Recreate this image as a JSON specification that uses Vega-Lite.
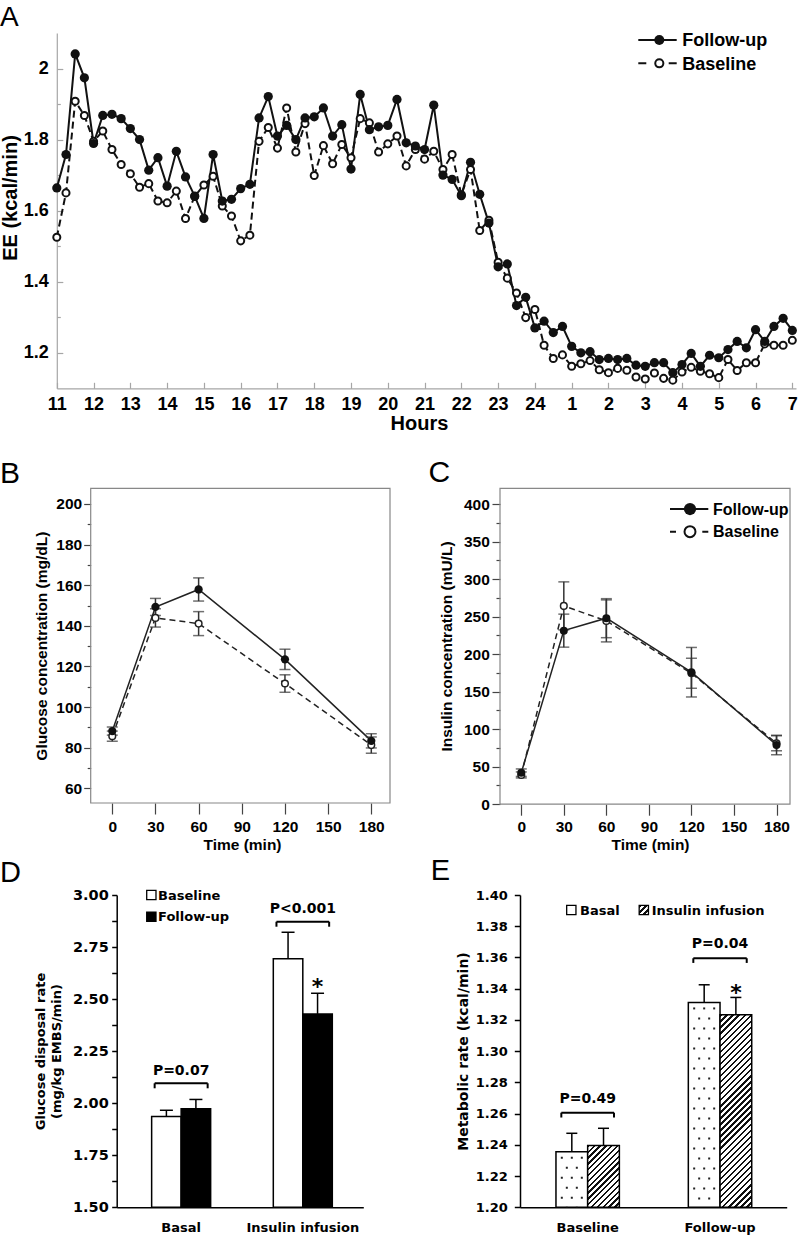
{
"$schema":"https://vega.github.io/schema/vega-lite/v6.json",
"width":800,"height":1236,"autosize":{"type":"none"},"padding":0,"background":"white",
"config":{"view":{"stroke":null},"axis":{"grid":false,"labelFlush":false,"labelOverlap":false}},
"datasets":{
"ee":[
{"hour":11,"series":"Follow-up","ee":1.664},{"hour":11.25,"series":"Follow-up","ee":1.758},{"hour":11.5,"series":"Follow-up","ee":2.041},{"hour":11.75,"series":"Follow-up","ee":1.974},{"hour":12,"series":"Follow-up","ee":1.789},{"hour":12.25,"series":"Follow-up","ee":1.868},{"hour":12.5,"series":"Follow-up","ee":1.871},{"hour":12.75,"series":"Follow-up","ee":1.859},{"hour":13,"series":"Follow-up","ee":1.831},{"hour":13.25,"series":"Follow-up","ee":1.8},
{"hour":13.5,"series":"Follow-up","ee":1.714},{"hour":13.75,"series":"Follow-up","ee":1.749},{"hour":14,"series":"Follow-up","ee":1.669},{"hour":14.25,"series":"Follow-up","ee":1.767},{"hour":14.5,"series":"Follow-up","ee":1.695},{"hour":14.75,"series":"Follow-up","ee":1.641},{"hour":15,"series":"Follow-up","ee":1.578},{"hour":15.25,"series":"Follow-up","ee":1.758},{"hour":15.5,"series":"Follow-up","ee":1.627},{"hour":15.75,"series":"Follow-up","ee":1.632},
{"hour":16,"series":"Follow-up","ee":1.662},{"hour":16.25,"series":"Follow-up","ee":1.674},{"hour":16.5,"series":"Follow-up","ee":1.861},{"hour":16.75,"series":"Follow-up","ee":1.921},{"hour":17,"series":"Follow-up","ee":1.81},{"hour":17.25,"series":"Follow-up","ee":1.84},{"hour":17.5,"series":"Follow-up","ee":1.8},{"hour":17.75,"series":"Follow-up","ee":1.861},{"hour":18,"series":"Follow-up","ee":1.864},{"hour":18.25,"series":"Follow-up","ee":1.889},
{"hour":18.5,"series":"Follow-up","ee":1.81},{"hour":18.75,"series":"Follow-up","ee":1.842},{"hour":19,"series":"Follow-up","ee":1.717},{"hour":19.25,"series":"Follow-up","ee":1.927},{"hour":19.5,"series":"Follow-up","ee":1.828},{"hour":19.75,"series":"Follow-up","ee":1.836},{"hour":20,"series":"Follow-up","ee":1.84},{"hour":20.25,"series":"Follow-up","ee":1.913},{"hour":20.5,"series":"Follow-up","ee":1.791},{"hour":20.75,"series":"Follow-up","ee":1.782},
{"hour":21,"series":"Follow-up","ee":1.772},{"hour":21.25,"series":"Follow-up","ee":1.897},{"hour":21.5,"series":"Follow-up","ee":1.7},{"hour":21.75,"series":"Follow-up","ee":1.688},{"hour":22,"series":"Follow-up","ee":1.642},{"hour":22.25,"series":"Follow-up","ee":1.736},{"hour":22.5,"series":"Follow-up","ee":1.646},{"hour":22.75,"series":"Follow-up","ee":1.565},{"hour":23,"series":"Follow-up","ee":1.442},{"hour":23.25,"series":"Follow-up","ee":1.45},
{"hour":23.5,"series":"Follow-up","ee":1.333},{"hour":23.75,"series":"Follow-up","ee":1.356},{"hour":24,"series":"Follow-up","ee":1.27},{"hour":24.25,"series":"Follow-up","ee":1.289},{"hour":24.5,"series":"Follow-up","ee":1.257},{"hour":24.75,"series":"Follow-up","ee":1.274},{"hour":25,"series":"Follow-up","ee":1.218},{"hour":25.25,"series":"Follow-up","ee":1.2},{"hour":25.5,"series":"Follow-up","ee":1.203},{"hour":25.75,"series":"Follow-up","ee":1.181},
{"hour":26,"series":"Follow-up","ee":1.184},{"hour":26.25,"series":"Follow-up","ee":1.181},{"hour":26.5,"series":"Follow-up","ee":1.184},{"hour":26.75,"series":"Follow-up","ee":1.165},{"hour":27,"series":"Follow-up","ee":1.162},{"hour":27.25,"series":"Follow-up","ee":1.172},{"hour":27.5,"series":"Follow-up","ee":1.172},{"hour":27.75,"series":"Follow-up","ee":1.144},{"hour":28,"series":"Follow-up","ee":1.167},{"hour":28.25,"series":"Follow-up","ee":1.198},
{"hour":28.5,"series":"Follow-up","ee":1.162},{"hour":28.75,"series":"Follow-up","ee":1.193},{"hour":29,"series":"Follow-up","ee":1.186},{"hour":29.25,"series":"Follow-up","ee":1.209},{"hour":29.5,"series":"Follow-up","ee":1.232},{"hour":29.75,"series":"Follow-up","ee":1.214},{"hour":30,"series":"Follow-up","ee":1.265},{"hour":30.25,"series":"Follow-up","ee":1.232},{"hour":30.5,"series":"Follow-up","ee":1.274},{"hour":30.75,"series":"Follow-up","ee":1.297},
{"hour":31,"series":"Follow-up","ee":1.263},
{"hour":11,"series":"Baseline","ee":1.525},{"hour":11.25,"series":"Baseline","ee":1.65},{"hour":11.5,"series":"Baseline","ee":1.908},{"hour":11.75,"series":"Baseline","ee":1.868},{"hour":12,"series":"Baseline","ee":1.795},{"hour":12.25,"series":"Baseline","ee":1.824},{"hour":12.5,"series":"Baseline","ee":1.772},{"hour":12.75,"series":"Baseline","ee":1.73},{"hour":13,"series":"Baseline","ee":1.704},{"hour":13.25,"series":"Baseline","ee":1.666},
{"hour":13.5,"series":"Baseline","ee":1.676},{"hour":13.75,"series":"Baseline","ee":1.627},{"hour":14,"series":"Baseline","ee":1.622},{"hour":14.25,"series":"Baseline","ee":1.655},{"hour":14.5,"series":"Baseline","ee":1.578},{"hour":14.75,"series":"Baseline","ee":1.64},{"hour":15,"series":"Baseline","ee":1.672},{"hour":15.25,"series":"Baseline","ee":1.697},{"hour":15.5,"series":"Baseline","ee":1.613},{"hour":15.75,"series":"Baseline","ee":1.585},
{"hour":16,"series":"Baseline","ee":1.515},{"hour":16.25,"series":"Baseline","ee":1.531},{"hour":16.5,"series":"Baseline","ee":1.795},{"hour":16.75,"series":"Baseline","ee":1.834},{"hour":17,"series":"Baseline","ee":1.776},{"hour":17.25,"series":"Baseline","ee":1.889},{"hour":17.5,"series":"Baseline","ee":1.765},{"hour":17.75,"series":"Baseline","ee":1.845},{"hour":18,"series":"Baseline","ee":1.699},{"hour":18.25,"series":"Baseline","ee":1.783},
{"hour":18.5,"series":"Baseline","ee":1.732},{"hour":18.75,"series":"Baseline","ee":1.786},{"hour":19,"series":"Baseline","ee":1.749},{"hour":19.25,"series":"Baseline","ee":1.859},{"hour":19.5,"series":"Baseline","ee":1.847},{"hour":19.75,"series":"Baseline","ee":1.765},{"hour":20,"series":"Baseline","ee":1.788},{"hour":20.25,"series":"Baseline","ee":1.81},{"hour":20.5,"series":"Baseline","ee":1.726},{"hour":20.75,"series":"Baseline","ee":1.772},
{"hour":21,"series":"Baseline","ee":1.745},{"hour":21.25,"series":"Baseline","ee":1.767},{"hour":21.5,"series":"Baseline","ee":1.716},{"hour":21.75,"series":"Baseline","ee":1.758},{"hour":22,"series":"Baseline","ee":1.645},{"hour":22.25,"series":"Baseline","ee":1.716},{"hour":22.5,"series":"Baseline","ee":1.544},{"hour":22.75,"series":"Baseline","ee":1.573},{"hour":23,"series":"Baseline","ee":1.455},{"hour":23.25,"series":"Baseline","ee":1.41},
{"hour":23.5,"series":"Baseline","ee":1.368},{"hour":23.75,"series":"Baseline","ee":1.299},{"hour":24,"series":"Baseline","ee":1.322},{"hour":24.25,"series":"Baseline","ee":1.221},{"hour":24.5,"series":"Baseline","ee":1.184},{"hour":24.75,"series":"Baseline","ee":1.194},{"hour":25,"series":"Baseline","ee":1.162},{"hour":25.25,"series":"Baseline","ee":1.169},{"hour":25.5,"series":"Baseline","ee":1.178},{"hour":25.75,"series":"Baseline","ee":1.152},
{"hour":26,"series":"Baseline","ee":1.144},{"hour":26.25,"series":"Baseline","ee":1.156},{"hour":26.5,"series":"Baseline","ee":1.151},{"hour":26.75,"series":"Baseline","ee":1.132},{"hour":27,"series":"Baseline","ee":1.126},{"hour":27.25,"series":"Baseline","ee":1.143},{"hour":27.5,"series":"Baseline","ee":1.128},{"hour":27.75,"series":"Baseline","ee":1.123},{"hour":28,"series":"Baseline","ee":1.146},{"hour":28.25,"series":"Baseline","ee":1.159},
{"hour":28.5,"series":"Baseline","ee":1.148},{"hour":28.75,"series":"Baseline","ee":1.141},{"hour":29,"series":"Baseline","ee":1.13},{"hour":29.25,"series":"Baseline","ee":1.181},{"hour":29.5,"series":"Baseline","ee":1.15},{"hour":29.75,"series":"Baseline","ee":1.172},{"hour":30,"series":"Baseline","ee":1.172},{"hour":30.25,"series":"Baseline","ee":1.225},{"hour":30.5,"series":"Baseline","ee":1.221},{"hour":30.75,"series":"Baseline","ee":1.221},
{"hour":31,"series":"Baseline","ee":1.235}
],
"glucose":[
{"time":0,"series":"Follow-up","mean":88.2,"se":2.0},{"time":30,"series":"Follow-up","mean":149.3,"se":4.2},{"time":60,"series":"Follow-up","mean":157.9,"se":5.7},{"time":120,"series":"Follow-up","mean":123.5,"se":5.0},{"time":180,"series":"Follow-up","mean":83.4,"se":3.5},
{"time":0,"series":"Baseline","mean":85.7,"se":2.5},{"time":30,"series":"Baseline","mean":143.9,"se":4.5},{"time":60,"series":"Baseline","mean":141.1,"se":5.9},{"time":120,"series":"Baseline","mean":111.6,"se":4.3},{"time":180,"series":"Baseline","mean":81.3,"se":4.0}
],
"insulin":[
{"time":0,"series":"Follow-up","mean":42,"se":5},{"time":30,"series":"Follow-up","mean":231.3,"se":22},{"time":60,"series":"Follow-up","mean":247.9,"se":26},{"time":120,"series":"Follow-up","mean":175.9,"se":33},{"time":180,"series":"Follow-up","mean":78.9,"se":13},
{"time":0,"series":"Baseline","mean":39,"se":4},{"time":30,"series":"Baseline","mean":264.3,"se":32},{"time":60,"series":"Baseline","mean":244.3,"se":28},{"time":120,"series":"Baseline","mean":174.5,"se":20},{"time":180,"series":"Baseline","mean":81.2,"se":10}
],
"gdr":[
{"cond":"Basal","group":"Baseline","value":1.936,"hi":1.966},{"cond":"Basal","group":"Follow-up","value":1.973,"hi":2.018},
{"cond":"Insulin infusion","group":"Baseline","value":2.694,"hi":2.821},{"cond":"Insulin infusion","group":"Follow-up","value":2.429,"hi":2.528}
],
"mr":[
{"time":"Baseline","cond":"Basal","value":1.2356,"hi":1.2474},{"time":"Baseline","cond":"Insulin infusion","value":1.2395,"hi":1.2506},
{"time":"Follow-up","cond":"Basal","value":1.3312,"hi":1.3425},{"time":"Follow-up","cond":"Insulin infusion","value":1.3233,"hi":1.3344}
]
},
"layer":[
{"data":{"name":"ee"},"layer":[
 {"transform":[{"filter":"datum.series==='Follow-up'"}],"mark":{"type":"line","color":"#111","strokeWidth":2},
  "encoding":{"x":{"field":"hour","type":"quantitative","scale":{"domain":[11,31.1],"range":[56.8,796],"nice":false,"zero":false},
     "axis":{"orient":"bottom","offset":-847.7,"values":[11,12,13,14,15,16,17,18,19,20,21,22,23,24,25,26,27,28,29,30,31],"tickCount":60,"labelExpr":"datum.value > 24 ? '' + (datum.value - 24) : '' + datum.value","labelOverlap":false,"labelFlush":false,"labelBound":false,"domainColor":"#a6a6a6","domainWidth":1.2,"tickColor":"#a6a6a6","tickWidth":1.2,"tickSize":-6,"labelPadding":13,"labelFont":"Liberation Sans","labelFontSize":18,"labelFontWeight":"bold","labelColor":"black","title":"Hours","titleFont":"Liberation Sans","titleFontSize":20,"titleFontWeight":"bold","titleColor":"black","titleX":419,"titleY":41,"titleBaseline":"alphabetic"}},
   "y":{"field":"ee","type":"quantitative","scale":{"domain":[1.1,2.1],"range":[388.3,33],"nice":false,"zero":false},
     "axis":{"orient":"left","offset":-56.8,"values":[1.2,1.3,1.4,1.5,1.6,1.7,1.8,1.9,2],"tickCount":60,"labelExpr":"round(datum.value*10) % 2 == 0 ? (datum.value == 2 ? '2' : format(datum.value, '.1f')) : ''","labelOverlap":false,"labelFlush":false,"domainColor":"#a6a6a6","domainWidth":1.2,"tickColor":"#a6a6a6","tickWidth":1.2,"tickSize":{"condition":{"test":"round(datum.value*10) % 2 != 0","value":-3.5},"value":-6},"labelPadding":14.5,"labelFont":"Liberation Sans","labelFontSize":18,"labelFontWeight":"bold","labelColor":"black","title":"EE (kcal/min)","titleFont":"Liberation Sans","titleFontSize":20,"titleFontWeight":"bold","titleColor":"black","titleX":-40.1,"titleY":197.5,"titleAngle":270,"titleBaseline":"alphabetic"}}}},
 {"transform":[{"filter":"datum.series==='Baseline'"}],"mark":{"type":"line","color":"#111","strokeWidth":2,"strokeDash":[7,4]},
  "encoding":{"x":{"field":"hour","type":"quantitative","scale":{"domain":[11,31.1],"range":[56.8,796],"nice":false,"zero":false}},
   "y":{"field":"ee","type":"quantitative","scale":{"domain":[1.1,2.1],"range":[388.3,33],"nice":false,"zero":false}}}},
 {"transform":[{"filter":"datum.series==='Baseline'"}],"mark":{"type":"circle","size":50,"fill":"white","stroke":"#111","strokeWidth":2,"opacity":1},
  "encoding":{"x":{"field":"hour","type":"quantitative","scale":{"domain":[11,31.1],"range":[56.8,796],"nice":false,"zero":false}},
   "y":{"field":"ee","type":"quantitative","scale":{"domain":[1.1,2.1],"range":[388.3,33],"nice":false,"zero":false}}}},
 {"transform":[{"filter":"datum.series==='Follow-up'"}],"mark":{"type":"circle","size":85,"fill":"#111","opacity":1},
  "encoding":{"x":{"field":"hour","type":"quantitative","scale":{"domain":[11,31.1],"range":[56.8,796],"nice":false,"zero":false}},
   "y":{"field":"ee","type":"quantitative","scale":{"domain":[1.1,2.1],"range":[388.3,33],"nice":false,"zero":false}}}},
 {"data":{"values":[{"label":"Follow-up"}]},"layer":[
  {"mark":{"type":"rule","color":"#111","strokeWidth":2},"encoding":{"x":{"datum":26.812,"type":"quantitative","scale":{"domain":[11,31.1],"range":[56.8,796],"nice":false,"zero":false}},"x2":{"datum":27.856},"y":{"datum":2.0803,"type":"quantitative","scale":{"domain":[1.1,2.1],"range":[388.3,33],"nice":false,"zero":false}}}},
  {"mark":{"type":"circle","size":100,"fill":"#111","opacity":1},"encoding":{"x":{"datum":27.383,"type":"quantitative","scale":{"domain":[11,31.1],"range":[56.8,796],"nice":false,"zero":false}},"y":{"datum":2.0803,"type":"quantitative","scale":{"domain":[1.1,2.1],"range":[388.3,33],"nice":false,"zero":false}}}},
  {"mark":{"type":"text","font":"Liberation Sans","fontWeight":"bold","fontSize":18,"align":"left","baseline":"alphabetic","color":"black"},"encoding":{"x":{"datum":28.009,"type":"quantitative","scale":{"domain":[11,31.1],"range":[56.8,796],"nice":false,"zero":false}},"y":{"datum":2.0623,"type":"quantitative","scale":{"domain":[1.1,2.1],"range":[388.3,33],"nice":false,"zero":false}},"text":{"field":"label"}}}
 ]},
 {"data":{"values":[{"label":"Baseline"}]},"layer":[
  {"mark":{"type":"rule","color":"#111","strokeWidth":2,"strokeDash":[8,22.4,8]},"encoding":{"x":{"datum":26.812,"type":"quantitative","scale":{"domain":[11,31.1],"range":[56.8,796],"nice":false,"zero":false}},"x2":{"datum":27.856},"y":{"datum":2.0147,"type":"quantitative","scale":{"domain":[1.1,2.1],"range":[388.3,33],"nice":false,"zero":false}}}},
  {"mark":{"type":"circle","size":66,"fill":"white","stroke":"#111","strokeWidth":2,"opacity":1},"encoding":{"x":{"datum":27.383,"type":"quantitative","scale":{"domain":[11,31.1],"range":[56.8,796],"nice":false,"zero":false}},"y":{"datum":2.0147,"type":"quantitative","scale":{"domain":[1.1,2.1],"range":[388.3,33],"nice":false,"zero":false}}}},
  {"mark":{"type":"text","font":"Liberation Sans","fontWeight":"bold","fontSize":18,"align":"left","baseline":"alphabetic","color":"black"},"encoding":{"x":{"datum":28.009,"type":"quantitative","scale":{"domain":[11,31.1],"range":[56.8,796],"nice":false,"zero":false}},"y":{"datum":1.9967,"type":"quantitative","scale":{"domain":[1.1,2.1],"range":[388.3,33],"nice":false,"zero":false}},"text":{"field":"label"}}}
 ]},
 {"data":{"values":[{"label":"A"}]},"mark":{"type":"text","font":"Liberation Sans","fontSize":28,"align":"left","baseline":"alphabetic","color":"black"},"encoding":{"x":{"datum":9.456,"type":"quantitative","scale":{"domain":[11,31.1],"range":[56.8,796],"nice":false,"zero":false}},"y":{"datum":2.1196,"type":"quantitative","scale":{"domain":[1.1,2.1],"range":[388.3,33],"nice":false,"zero":false}},"text":{"field":"label"}}}
]},
{"data":{"name":"glucose"},"layer":[
 {"transform":[{"filter":"datum.series==='Follow-up'"}],"mark":{"type":"line","color":"#222","strokeWidth":1.5},"encoding":{
   "x":{"field":"time","type":"quantitative","scale":{"domain":[-15,193],"range":[90.7,390],"nice":false,"zero":false},
    "axis":{"orient":"bottom","offset":-433,"values":[0,30,60,90,120,150,180],"tickCount":60,"labelOverlap":false,"labelFlush":false,"domain":false,"tickSize":11,"tickColor":"#444","tickWidth":1.2,"labelPadding":5.5,"labelFont":"Liberation Sans","labelFontSize":15.5,"labelFontWeight":"bold","labelColor":"black","title":"Time (min)","titleFont":"Liberation Sans","titleFontSize":15.5,"titleFontWeight":"bold","titleColor":"black","titleX":242,"titleY":46.4,"titleBaseline":"alphabetic"}},
   "y":{"field":"mean","type":"quantitative","title":"Glucose concentration (mg/dL)","scale":{"domain":[52.8,207.7],"range":[803,488.3],"nice":false,"zero":false},
    "axis":{"orient":"left","offset":-90.7,"values":[60,70,80,90,100,110,120,130,140,150,160,170,180,190,200],"tickCount":60,"labelExpr":"datum.value % 20 == 0 ? datum.label : ''","labelOverlap":false,"labelFlush":false,"domain":false,"tickSize":{"condition":{"test":"datum.value % 20 != 0","value":3.5},"value":7},"tickColor":"#444","tickWidth":1.2,"labelPadding":2,"labelFont":"Liberation Sans","labelFontSize":15.5,"labelFontWeight":"bold","labelColor":"black","title":"Glucose concentration (mg/dL)","titleFont":"Liberation Sans","titleFontSize":15.5,"titleFontWeight":"bold","titleColor":"black","titleX":-44.6,"titleY":645.6,"titleAngle":270,"titleBaseline":"alphabetic"}}}},
 {"data":{"values":[{"box":1}]},"mark":{"type":"rect","filled":false,"color":"#888","strokeWidth":1.2},"encoding":{"x":{"datum":-15,"type":"quantitative","scale":{"domain":[-15,193],"range":[90.7,390],"nice":false,"zero":false}},"x2":{"datum":193},"y":{"datum":52.8,"type":"quantitative","scale":{"domain":[52.8,207.7],"range":[803,488.3],"nice":false,"zero":false}},"y2":{"datum":207.7}}},
 {"mark":{"type":"errorbar","ticks":true,"size":11,"thickness":1.5,"color":"#333"},"encoding":{"x":{"field":"time","type":"quantitative","scale":{"domain":[-15,193],"range":[90.7,390],"nice":false,"zero":false}},"y":{"field":"mean","type":"quantitative","title":"Glucose concentration (mg/dL)","scale":{"domain":[52.8,207.7],"range":[803,488.3],"nice":false,"zero":false}},"yError":{"field":"se"}}},
 {"transform":[{"filter":"datum.series==='Baseline'"}],"mark":{"type":"line","color":"#222","strokeWidth":1.5,"strokeDash":[6,4]},"encoding":{"x":{"field":"time","type":"quantitative","scale":{"domain":[-15,193],"range":[90.7,390],"nice":false,"zero":false}},"y":{"field":"mean","type":"quantitative","scale":{"domain":[52.8,207.7],"range":[803,488.3],"nice":false,"zero":false}}}},
 {"transform":[{"filter":"datum.series==='Baseline'"}],"mark":{"type":"circle","size":44,"fill":"white","stroke":"#222","strokeWidth":1.5,"opacity":1},"encoding":{"x":{"field":"time","type":"quantitative","scale":{"domain":[-15,193],"range":[90.7,390],"nice":false,"zero":false}},"y":{"field":"mean","type":"quantitative","scale":{"domain":[52.8,207.7],"range":[803,488.3],"nice":false,"zero":false}}}},
 {"transform":[{"filter":"datum.series==='Follow-up'"}],"mark":{"type":"circle","size":68,"fill":"#111","opacity":1},"encoding":{"x":{"field":"time","type":"quantitative","scale":{"domain":[-15,193],"range":[90.7,390],"nice":false,"zero":false}},"y":{"field":"mean","type":"quantitative","scale":{"domain":[52.8,207.7],"range":[803,488.3],"nice":false,"zero":false}}}},
 {"data":{"values":[{"label":"B"}]},"mark":{"type":"text","font":"Liberation Sans","fontSize":30,"align":"left","baseline":"alphabetic","color":"black"},"encoding":{"x":{"datum":-78.03,"type":"quantitative","scale":{"domain":[-15,193],"range":[90.7,390],"nice":false,"zero":false}},"y":{"datum":210.31,"type":"quantitative","scale":{"domain":[52.8,207.7],"range":[803,488.3],"nice":false,"zero":false}},"text":{"field":"label"}}},
 {"data":{"values":[{"label":"D"}]},"mark":{"type":"text","font":"Liberation Sans","fontSize":29,"align":"left","baseline":"alphabetic","color":"black"},"encoding":{"x":{"datum":-78.03,"type":"quantitative","scale":{"domain":[-15,193],"range":[90.7,390],"nice":false,"zero":false}},"y":{"datum":13.91,"type":"quantitative","scale":{"domain":[52.8,207.7],"range":[803,488.3],"nice":false,"zero":false}},"text":{"field":"label"}}}
]},
{"data":{"name":"insulin"},"layer":[
 {"transform":[{"filter":"datum.series==='Follow-up'"}],"mark":{"type":"line","color":"#222","strokeWidth":1.5},"encoding":{
   "x":{"field":"time","type":"quantitative","scale":{"domain":[-15,189.5],"range":[500,790],"nice":false,"zero":false},
    "axis":{"orient":"bottom","offset":-431.8,"values":[0,30,60,90,120,150,180],"tickCount":60,"labelOverlap":false,"labelFlush":false,"domain":false,"tickSize":11,"tickColor":"#444","tickWidth":1.2,"labelPadding":4.3,"labelFont":"Liberation Sans","labelFontSize":15.5,"labelFontWeight":"bold","labelColor":"black","title":"Time (min)","titleFont":"Liberation Sans","titleFontSize":15.5,"titleFontWeight":"bold","titleColor":"black","titleX":650,"titleY":45.2,"titleBaseline":"alphabetic"}},
   "y":{"field":"mean","type":"quantitative","title":"Insulin concentration (mU/L)","scale":{"domain":[0,421],"range":[804.2,488.3],"nice":false,"zero":false},
    "axis":{"orient":"left","offset":-500,"values":[0,25,50,75,100,125,150,175,200,225,250,275,300,325,350,375,400],"tickCount":60,"labelExpr":"datum.value % 50 == 0 ? datum.label : ''","labelOverlap":false,"labelFlush":false,"domain":false,"tickSize":{"condition":{"test":"datum.value % 50 != 0","value":4},"value":8},"tickColor":"#444","tickWidth":1.2,"labelPadding":2.7,"labelFont":"Liberation Sans","labelFontSize":15.5,"labelFontWeight":"bold","labelColor":"black","title":"Insulin concentration (mU/L)","titleFont":"Liberation Sans","titleFontSize":15.5,"titleFontWeight":"bold","titleColor":"black","titleX":-48.9,"titleY":646,"titleAngle":270,"titleBaseline":"alphabetic"}}}},
 {"data":{"values":[{"box":1}]},"mark":{"type":"rect","filled":false,"color":"#888","strokeWidth":1.2},"encoding":{"x":{"datum":-15,"type":"quantitative","scale":{"domain":[-15,189.5],"range":[500,790],"nice":false,"zero":false}},"x2":{"datum":189.5},"y":{"datum":0,"type":"quantitative","scale":{"domain":[0,421],"range":[804.2,488.3],"nice":false,"zero":false}},"y2":{"datum":421}}},
 {"mark":{"type":"errorbar","ticks":true,"size":11,"thickness":1.5,"color":"#333"},"encoding":{"x":{"field":"time","type":"quantitative","scale":{"domain":[-15,189.5],"range":[500,790],"nice":false,"zero":false}},"y":{"field":"mean","type":"quantitative","title":"Insulin concentration (mU/L)","scale":{"domain":[0,421],"range":[804.2,488.3],"nice":false,"zero":false}},"yError":{"field":"se"}}},
 {"transform":[{"filter":"datum.series==='Baseline'"}],"mark":{"type":"line","color":"#222","strokeWidth":1.5,"strokeDash":[6,4]},"encoding":{"x":{"field":"time","type":"quantitative","scale":{"domain":[-15,189.5],"range":[500,790],"nice":false,"zero":false}},"y":{"field":"mean","type":"quantitative","scale":{"domain":[0,421],"range":[804.2,488.3],"nice":false,"zero":false}}}},
 {"transform":[{"filter":"datum.series==='Baseline'"}],"mark":{"type":"circle","size":44,"fill":"white","stroke":"#222","strokeWidth":1.5,"opacity":1},"encoding":{"x":{"field":"time","type":"quantitative","scale":{"domain":[-15,189.5],"range":[500,790],"nice":false,"zero":false}},"y":{"field":"mean","type":"quantitative","scale":{"domain":[0,421],"range":[804.2,488.3],"nice":false,"zero":false}}}},
 {"transform":[{"filter":"datum.series==='Follow-up'"}],"mark":{"type":"circle","size":64,"fill":"#111","opacity":1},"encoding":{"x":{"field":"time","type":"quantitative","scale":{"domain":[-15,189.5],"range":[500,790],"nice":false,"zero":false}},"y":{"field":"mean","type":"quantitative","scale":{"domain":[0,421],"range":[804.2,488.3],"nice":false,"zero":false}}}},
 {"data":{"values":[{"label":"Follow-up"}]},"layer":[
  {"mark":{"type":"rule","color":"#111","strokeWidth":2},"encoding":{"x":{"datum":104.88,"type":"quantitative","scale":{"domain":[-15,189.5],"range":[500,790],"nice":false,"zero":false}},"x2":{"datum":131.89},"y":{"datum":393.4,"type":"quantitative","scale":{"domain":[0,421],"range":[804.2,488.3],"nice":false,"zero":false}}}},
  {"mark":{"type":"circle","size":150,"fill":"#111","opacity":1},"encoding":{"x":{"datum":118.98,"type":"quantitative","scale":{"domain":[-15,189.5],"range":[500,790],"nice":false,"zero":false}},"y":{"datum":393.4,"type":"quantitative","scale":{"domain":[0,421],"range":[804.2,488.3],"nice":false,"zero":false}}}},
  {"mark":{"type":"text","font":"Liberation Sans","fontWeight":"bold","fontSize":16,"align":"left","baseline":"alphabetic","color":"black"},"encoding":{"x":{"datum":135.2,"type":"quantitative","scale":{"domain":[-15,189.5],"range":[500,790],"nice":false,"zero":false}},"y":{"datum":385.8,"type":"quantitative","scale":{"domain":[0,421],"range":[804.2,488.3],"nice":false,"zero":false}},"text":{"field":"label"}}}
 ]},
 {"data":{"values":[{"label":"Baseline"}]},"layer":[
  {"mark":{"type":"rule","color":"#111","strokeWidth":2,"strokeDash":[6,26.3,6]},"encoding":{"x":{"datum":104.88,"type":"quantitative","scale":{"domain":[-15,189.5],"range":[500,790],"nice":false,"zero":false}},"x2":{"datum":131.89},"y":{"datum":363.2,"type":"quantitative","scale":{"domain":[0,421],"range":[804.2,488.3],"nice":false,"zero":false}}}},
  {"mark":{"type":"circle","size":120,"fill":"white","stroke":"#111","strokeWidth":2,"opacity":1},"encoding":{"x":{"datum":118.98,"type":"quantitative","scale":{"domain":[-15,189.5],"range":[500,790],"nice":false,"zero":false}},"y":{"datum":363.2,"type":"quantitative","scale":{"domain":[0,421],"range":[804.2,488.3],"nice":false,"zero":false}}}},
  {"mark":{"type":"text","font":"Liberation Sans","fontWeight":"bold","fontSize":16,"align":"left","baseline":"alphabetic","color":"black"},"encoding":{"x":{"datum":135.2,"type":"quantitative","scale":{"domain":[-15,189.5],"range":[500,790],"nice":false,"zero":false}},"y":{"datum":355.6,"type":"quantitative","scale":{"domain":[0,421],"range":[804.2,488.3],"nice":false,"zero":false}},"text":{"field":"label"}}}
 ]},
 {"data":{"values":[{"label":"C"}]},"mark":{"type":"text","font":"Liberation Sans","fontSize":30,"align":"left","baseline":"alphabetic","color":"black"},"encoding":{"x":{"datum":-65.42,"type":"quantitative","scale":{"domain":[-15,189.5],"range":[500,790],"nice":false,"zero":false}},"y":{"datum":429.4,"type":"quantitative","scale":{"domain":[0,421],"range":[804.2,488.3],"nice":false,"zero":false}},"text":{"field":"label"}}},
 {"data":{"values":[{"label":"E"}]},"mark":{"type":"text","font":"Liberation Sans","fontSize":29,"align":"left","baseline":"alphabetic","color":"black"},"encoding":{"x":{"datum":-63.87,"type":"quantitative","scale":{"domain":[-15,189.5],"range":[500,790],"nice":false,"zero":false}},"y":{"datum":-101.02,"type":"quantitative","scale":{"domain":[0,421],"range":[804.2,488.3],"nice":false,"zero":false}},"text":{"field":"label"}}}
]},
{"data":{"name":"gdr"},"layer":[
 {"mark":{"type":"bar","stroke":"black","strokeWidth":1.5},"encoding":{
   "x":{"field":"cond","type":"nominal","scale":{"type":"band","domain":["Basal","Insulin infusion"],"range":[116.7,363.3],"paddingInner":0.515,"paddingOuter":0.271,"align":0.53},
    "axis":{"orient":"bottom","offset":-28.7,"ticks":false,"domainColor":"black","domainWidth":1.5,"labelPadding":13.9,"labelFont":"DejaVu Sans","labelFontSize":13,"labelFontWeight":"bold","labelColor":"black","labelAngle":0,"labelOverlap":false,"title":null}},
   "xOffset":{"field":"group","type":"nominal","scale":{"type":"band","domain":["Baseline","Follow-up"],"paddingInner":0,"paddingOuter":0}},
   "y":{"field":"value","type":"quantitative","scale":{"domain":[1.5,3],"range":[1207.3,895],"nice":false,"zero":false},
    "axis":{"orient":"left","offset":-116.7,"values":[1.5,1.625,1.75,1.875,2,2.125,2.25,2.375,2.5,2.625,2.75,2.875,3],"tickCount":60,"labelExpr":"(datum.value*4) % 1 == 0 ? format(datum.value, '.2f') : ''","labelOverlap":false,"labelFlush":false,"tickSize":5,"tickColor":"black","tickWidth":1.5,"domainColor":"black","domainWidth":1.5,"labelPadding":3.4,"labelFont":"DejaVu Sans","labelFontSize":14.5,"labelFontWeight":"bold","labelColor":"black","title":["Glucose disposal rate","(mg/kg EMBS/min)"],"titleFont":"DejaVu Sans","titleFontSize":13,"titleFontWeight":"bold","titleColor":"black","titleX":-72,"titleY":1051,"titleAngle":270,"titleBaseline":"alphabetic","titleLineHeight":16}},
   "y2":{"datum":1.5},
   "fill":{"condition":{"test":"datum.group==='Follow-up'","value":"black"},"value":"white"}}},
 {"mark":{"type":"rule","color":"black","strokeWidth":1.5},"encoding":{"x":{"field":"cond","type":"nominal","scale":{"type":"band","domain":["Basal","Insulin infusion"],"range":[116.7,363.3],"paddingInner":0.515,"paddingOuter":0.271,"align":0.53}},"xOffset":{"field":"group","type":"nominal","scale":{"type":"band","domain":["Baseline","Follow-up"],"paddingInner":0,"paddingOuter":0}},"y":{"field":"value","type":"quantitative","scale":{"domain":[1.5,3],"range":[1207.3,895],"nice":false,"zero":false}},"y2":{"field":"hi"}}},
 {"mark":{"type":"tick","color":"black","thickness":1.5,"size":13,"opacity":1},"encoding":{"x":{"field":"cond","type":"nominal","scale":{"type":"band","domain":["Basal","Insulin infusion"],"range":[116.7,363.3],"paddingInner":0.515,"paddingOuter":0.271,"align":0.53}},"xOffset":{"field":"group","type":"nominal","scale":{"type":"band","domain":["Baseline","Follow-up"],"paddingInner":0,"paddingOuter":0}},"y":{"field":"hi","type":"quantitative","scale":{"domain":[1.5,3],"range":[1207.3,895],"nice":false,"zero":false}}}},
 {"data":{"values":[{"cond":"Basal","p":"P=0.07"}]},"layer":[
  {"mark":{"type":"tick","color":"black","thickness":2,"size":53,"opacity":1},"encoding":{"x":{"field":"cond","type":"nominal","scale":{"type":"band","domain":["Basal","Insulin infusion"],"range":[116.7,363.3],"paddingInner":0.515,"paddingOuter":0.271,"align":0.53}},"y":{"datum":2.0956,"type":"quantitative","scale":{"domain":[1.5,3],"range":[1207.3,895],"nice":false,"zero":false}}}},
  {"mark":{"type":"rule","color":"black","strokeWidth":2,"xOffset":-26.5},"encoding":{"x":{"field":"cond","type":"nominal","scale":{"type":"band","domain":["Basal","Insulin infusion"],"range":[116.7,363.3],"paddingInner":0.515,"paddingOuter":0.271,"align":0.53}},"y":{"datum":2.0956,"type":"quantitative","scale":{"domain":[1.5,3],"range":[1207.3,895],"nice":false,"zero":false}},"y2":{"datum":2.0716}}},
  {"mark":{"type":"rule","color":"black","strokeWidth":2,"xOffset":26.5},"encoding":{"x":{"field":"cond","type":"nominal","scale":{"type":"band","domain":["Basal","Insulin infusion"],"range":[116.7,363.3],"paddingInner":0.515,"paddingOuter":0.271,"align":0.53}},"y":{"datum":2.0956,"type":"quantitative","scale":{"domain":[1.5,3],"range":[1207.3,895],"nice":false,"zero":false}},"y2":{"datum":2.0716}}},
  {"mark":{"type":"text","font":"DejaVu Sans","fontWeight":"bold","fontSize":14,"align":"center","baseline":"alphabetic","color":"black"},"encoding":{"x":{"field":"cond","type":"nominal","scale":{"type":"band","domain":["Basal","Insulin infusion"],"range":[116.7,363.3],"paddingInner":0.515,"paddingOuter":0.271,"align":0.53}},"y":{"datum":2.1354,"type":"quantitative","scale":{"domain":[1.5,3],"range":[1207.3,895],"nice":false,"zero":false}},"text":{"field":"p"}}}
 ]},
 {"data":{"values":[{"cond":"Insulin infusion","p":"P<0.001","star":"*"}]},"layer":[
  {"mark":{"type":"tick","color":"black","thickness":2,"size":52.7,"opacity":1},"encoding":{"x":{"field":"cond","type":"nominal","scale":{"type":"band","domain":["Basal","Insulin infusion"],"range":[116.7,363.3],"paddingInner":0.515,"paddingOuter":0.271,"align":0.53}},"y":{"datum":2.8717,"type":"quantitative","scale":{"domain":[1.5,3],"range":[1207.3,895],"nice":false,"zero":false}}}},
  {"mark":{"type":"rule","color":"black","strokeWidth":2,"xOffset":-26.35},"encoding":{"x":{"field":"cond","type":"nominal","scale":{"type":"band","domain":["Basal","Insulin infusion"],"range":[116.7,363.3],"paddingInner":0.515,"paddingOuter":0.271,"align":0.53}},"y":{"datum":2.8717,"type":"quantitative","scale":{"domain":[1.5,3],"range":[1207.3,895],"nice":false,"zero":false}},"y2":{"datum":2.8477}}},
  {"mark":{"type":"rule","color":"black","strokeWidth":2,"xOffset":26.35},"encoding":{"x":{"field":"cond","type":"nominal","scale":{"type":"band","domain":["Basal","Insulin infusion"],"range":[116.7,363.3],"paddingInner":0.515,"paddingOuter":0.271,"align":0.53}},"y":{"datum":2.8717,"type":"quantitative","scale":{"domain":[1.5,3],"range":[1207.3,895],"nice":false,"zero":false}},"y2":{"datum":2.8477}}},
  {"mark":{"type":"text","font":"DejaVu Sans","fontWeight":"bold","fontSize":14,"align":"center","baseline":"alphabetic","color":"black"},"encoding":{"x":{"field":"cond","type":"nominal","scale":{"type":"band","domain":["Basal","Insulin infusion"],"range":[116.7,363.3],"paddingInner":0.515,"paddingOuter":0.271,"align":0.53}},"y":{"datum":2.9135,"type":"quantitative","scale":{"domain":[1.5,3],"range":[1207.3,895],"nice":false,"zero":false}},"text":{"field":"p"}}},
  {"mark":{"type":"text","font":"DejaVu Sans","fontWeight":"bold","fontSize":22,"align":"center","baseline":"alphabetic","color":"black","dx":14.75},"encoding":{"x":{"field":"cond","type":"nominal","scale":{"type":"band","domain":["Basal","Insulin infusion"],"range":[116.7,363.3],"paddingInner":0.515,"paddingOuter":0.271,"align":0.53}},"y":{"datum":2.5235,"type":"quantitative","scale":{"domain":[1.5,3],"range":[1207.3,895],"nice":false,"zero":false}},"text":{"field":"star"}}}
 ]},
 {"data":{"values":[{"label":"Baseline"}]},"layer":[
  {"mark":{"type":"square","size":86,"fill":"white","stroke":"black","strokeWidth":1.3,"opacity":1,"xOffset":-29.8},"encoding":{"x":{"datum":"Basal","type":"nominal","scale":{"type":"band","domain":["Basal","Insulin infusion"],"range":[116.7,363.3],"paddingInner":0.515,"paddingOuter":0.271,"align":0.53}},"y":{"datum":3.0,"type":"quantitative","scale":{"domain":[1.5,3],"range":[1207.3,895],"nice":false,"zero":false}}}},
  {"mark":{"type":"text","font":"DejaVu Sans","fontWeight":"bold","fontSize":13,"align":"left","baseline":"alphabetic","color":"black","dx":-23.1},"encoding":{"x":{"datum":"Basal","type":"nominal","scale":{"type":"band","domain":["Basal","Insulin infusion"],"range":[116.7,363.3],"paddingInner":0.515,"paddingOuter":0.271,"align":0.53}},"y":{"datum":2.9774,"type":"quantitative","scale":{"domain":[1.5,3],"range":[1207.3,895],"nice":false,"zero":false}},"text":{"field":"label"}}}
 ]},
 {"data":{"values":[{"label":"Follow-up"}]},"layer":[
  {"mark":{"type":"square","size":86,"fill":"black","stroke":"black","strokeWidth":1.3,"opacity":1,"xOffset":-29.8},"encoding":{"x":{"datum":"Basal","type":"nominal","scale":{"type":"band","domain":["Basal","Insulin infusion"],"range":[116.7,363.3],"paddingInner":0.515,"paddingOuter":0.271,"align":0.53}},"y":{"datum":2.8958,"type":"quantitative","scale":{"domain":[1.5,3],"range":[1207.3,895],"nice":false,"zero":false}}}},
  {"mark":{"type":"text","font":"DejaVu Sans","fontWeight":"bold","fontSize":13,"align":"left","baseline":"alphabetic","color":"black","dx":-23.1},"encoding":{"x":{"datum":"Basal","type":"nominal","scale":{"type":"band","domain":["Basal","Insulin infusion"],"range":[116.7,363.3],"paddingInner":0.515,"paddingOuter":0.271,"align":0.53}},"y":{"datum":2.8732,"type":"quantitative","scale":{"domain":[1.5,3],"range":[1207.3,895],"nice":false,"zero":false}},"text":{"field":"label"}}}
 ]}
]},
{"data":{"name":"mr"},"layer":[
 {"transform":[{"filter":"datum.cond==='Basal'"}],"mark":{"type":"bar","fill":"white","stroke":"black","strokeWidth":1.5},"encoding":{
   "x":{"field":"time","type":"nominal","scale":{"type":"band","domain":["Baseline","Follow-up"],"range":[520,786.7],"paddingInner":0.521,"paddingOuter":0.268,"align":0.507},
    "axis":{"orient":"bottom","offset":-28.7,"ticks":false,"domainColor":"black","domainWidth":1.5,"labelPadding":13.9,"labelFont":"DejaVu Sans","labelFontSize":13,"labelFontWeight":"bold","labelColor":"black","labelAngle":0,"labelOverlap":false,"title":null}},
   "xOffset":{"field":"cond","type":"nominal","scale":{"type":"band","domain":["Basal","Insulin infusion"],"paddingInner":0,"paddingOuter":0}},
   "y":{"field":"value","type":"quantitative","scale":{"domain":[1.2,1.4],"range":[1207.3,895],"nice":false,"zero":false},
    "axis":{"orient":"left","offset":-520,"values":[1.2,1.22,1.24,1.26,1.28,1.3,1.32,1.34,1.36,1.38,1.4],"tickCount":60,"format":".2f","labelOverlap":false,"labelFlush":false,"tickSize":5.7,"tickColor":"black","tickWidth":1.5,"domainColor":"black","domainWidth":1.5,"labelPadding":7,"labelFont":"DejaVu Sans","labelFontSize":13,"labelFontWeight":"bold","labelColor":"black","title":"Metabolic rate (kcal/min)","titleFont":"DejaVu Sans","titleFontSize":14,"titleFontWeight":"bold","titleColor":"black","titleX":-53,"titleY":1051,"titleAngle":270,"titleBaseline":"alphabetic"}},
   "y2":{"datum":1.2}}},
 {"transform":[{"filter":"datum.cond==='Basal'"}],"mark":{"type":"rule","color":"#222","strokeWidth":2,"strokeDash":[2,18],"strokeDashOffset":15,"xOffset":-10},"encoding":{"x":{"field":"time","type":"nominal","bandPosition":0.25,"scale":{"type":"band","domain":["Baseline","Follow-up"],"range":[520,786.7],"paddingInner":0.521,"paddingOuter":0.268,"align":0.507}},"y":{"field":"value","type":"quantitative","scale":{"domain":[1.2,1.4],"range":[1207.3,895],"nice":false,"zero":false}},"y2":{"datum":1.2}}},
 {"transform":[{"filter":"datum.cond==='Basal'"}],"mark":{"type":"rule","color":"#222","strokeWidth":2,"strokeDash":[2,18],"strokeDashOffset":15,"xOffset":0},"encoding":{"x":{"field":"time","type":"nominal","bandPosition":0.25,"scale":{"type":"band","domain":["Baseline","Follow-up"],"range":[520,786.7],"paddingInner":0.521,"paddingOuter":0.268,"align":0.507}},"y":{"field":"value","type":"quantitative","scale":{"domain":[1.2,1.4],"range":[1207.3,895],"nice":false,"zero":false}},"y2":{"datum":1.2}}},
 {"transform":[{"filter":"datum.cond==='Basal'"}],"mark":{"type":"rule","color":"#222","strokeWidth":2,"strokeDash":[2,18],"strokeDashOffset":15,"xOffset":10},"encoding":{"x":{"field":"time","type":"nominal","bandPosition":0.25,"scale":{"type":"band","domain":["Baseline","Follow-up"],"range":[520,786.7],"paddingInner":0.521,"paddingOuter":0.268,"align":0.507}},"y":{"field":"value","type":"quantitative","scale":{"domain":[1.2,1.4],"range":[1207.3,895],"nice":false,"zero":false}},"y2":{"datum":1.2}}},
 {"transform":[{"filter":"datum.cond==='Basal'"}],"mark":{"type":"rule","color":"#222","strokeWidth":2,"strokeDash":[2,18],"strokeDashOffset":5,"xOffset":-5},"encoding":{"x":{"field":"time","type":"nominal","bandPosition":0.25,"scale":{"type":"band","domain":["Baseline","Follow-up"],"range":[520,786.7],"paddingInner":0.521,"paddingOuter":0.268,"align":0.507}},"y":{"field":"value","type":"quantitative","scale":{"domain":[1.2,1.4],"range":[1207.3,895],"nice":false,"zero":false}},"y2":{"datum":1.2}}},
 {"transform":[{"filter":"datum.cond==='Basal'"}],"mark":{"type":"rule","color":"#222","strokeWidth":2,"strokeDash":[2,18],"strokeDashOffset":5,"xOffset":5},"encoding":{"x":{"field":"time","type":"nominal","bandPosition":0.25,"scale":{"type":"band","domain":["Baseline","Follow-up"],"range":[520,786.7],"paddingInner":0.521,"paddingOuter":0.268,"align":0.507}},"y":{"field":"value","type":"quantitative","scale":{"domain":[1.2,1.4],"range":[1207.3,895],"nice":false,"zero":false}},"y2":{"datum":1.2}}},
 {"transform":[{"filter":"datum.cond==='Insulin infusion' && datum.time==='Baseline'"}],"mark":{"type":"bar","stroke":"black","strokeWidth":1.5,"fill":{"gradient":"linear","x1":0,"y1":0,"x2":0.6153,"y2":1.1976,"stops":[
  {"offset":0,"color":"#111"},{"offset":0.025,"color":"#111"},{"offset":0.025,"color":"#fff"},{"offset":0.0625,"color":"#fff"},
  {"offset":0.0625,"color":"#111"},{"offset":0.0875,"color":"#111"},{"offset":0.0875,"color":"#fff"},{"offset":0.125,"color":"#fff"},
  {"offset":0.125,"color":"#111"},{"offset":0.15,"color":"#111"},{"offset":0.15,"color":"#fff"},{"offset":0.1875,"color":"#fff"},
  {"offset":0.1875,"color":"#111"},{"offset":0.2125,"color":"#111"},{"offset":0.2125,"color":"#fff"},{"offset":0.25,"color":"#fff"},
  {"offset":0.25,"color":"#111"},{"offset":0.275,"color":"#111"},{"offset":0.275,"color":"#fff"},{"offset":0.3125,"color":"#fff"},
  {"offset":0.3125,"color":"#111"},{"offset":0.3375,"color":"#111"},{"offset":0.3375,"color":"#fff"},{"offset":0.375,"color":"#fff"},
  {"offset":0.375,"color":"#111"},{"offset":0.4,"color":"#111"},{"offset":0.4,"color":"#fff"},{"offset":0.4375,"color":"#fff"},
  {"offset":0.4375,"color":"#111"},{"offset":0.4625,"color":"#111"},{"offset":0.4625,"color":"#fff"},{"offset":0.5,"color":"#fff"},
  {"offset":0.5,"color":"#111"},{"offset":0.525,"color":"#111"},{"offset":0.525,"color":"#fff"},{"offset":0.5625,"color":"#fff"},
  {"offset":0.5625,"color":"#111"},{"offset":0.5875,"color":"#111"},{"offset":0.5875,"color":"#fff"},{"offset":0.625,"color":"#fff"},
  {"offset":0.625,"color":"#111"},{"offset":0.65,"color":"#111"},{"offset":0.65,"color":"#fff"},{"offset":0.6875,"color":"#fff"},
  {"offset":0.6875,"color":"#111"},{"offset":0.7125,"color":"#111"},{"offset":0.7125,"color":"#fff"},{"offset":0.75,"color":"#fff"},
  {"offset":0.75,"color":"#111"},{"offset":0.775,"color":"#111"},{"offset":0.775,"color":"#fff"},{"offset":0.8125,"color":"#fff"},
  {"offset":0.8125,"color":"#111"},{"offset":0.8375,"color":"#111"},{"offset":0.8375,"color":"#fff"},{"offset":0.875,"color":"#fff"},
  {"offset":0.875,"color":"#111"},{"offset":0.9,"color":"#111"},{"offset":0.9,"color":"#fff"},{"offset":0.9375,"color":"#fff"},
  {"offset":0.9375,"color":"#111"},{"offset":0.9625,"color":"#111"},{"offset":0.9625,"color":"#fff"},{"offset":1,"color":"#fff"}]}},
  "encoding":{"x":{"field":"time","type":"nominal","scale":{"type":"band","domain":["Baseline","Follow-up"],"range":[520,786.7],"paddingInner":0.521,"paddingOuter":0.268,"align":0.507}},"xOffset":{"field":"cond","type":"nominal","scale":{"type":"band","domain":["Basal","Insulin infusion"],"paddingInner":0,"paddingOuter":0}},"y":{"field":"value","type":"quantitative","scale":{"domain":[1.2,1.4],"range":[1207.3,895],"nice":false,"zero":false}},"y2":{"datum":1.2}}},
 {"transform":[{"filter":"datum.cond==='Insulin infusion' && datum.time==='Follow-up'"}],"mark":{"type":"bar","stroke":"black","strokeWidth":1.5,"fill":{"gradient":"linear","x1":0,"y1":0,"x2":0.1866,"y2":1.1339,"stops":[
  {"offset":0,"color":"#111"},{"offset":0.0108,"color":"#111"},{"offset":0.0108,"color":"#fff"},{"offset":0.027,"color":"#fff"},
  {"offset":0.027,"color":"#111"},{"offset":0.0378,"color":"#111"},{"offset":0.0378,"color":"#fff"},{"offset":0.054,"color":"#fff"},
  {"offset":0.054,"color":"#111"},{"offset":0.0648,"color":"#111"},{"offset":0.0648,"color":"#fff"},{"offset":0.081,"color":"#fff"},
  {"offset":0.081,"color":"#111"},{"offset":0.0918,"color":"#111"},{"offset":0.0918,"color":"#fff"},{"offset":0.108,"color":"#fff"},
  {"offset":0.108,"color":"#111"},{"offset":0.1188,"color":"#111"},{"offset":0.1188,"color":"#fff"},{"offset":0.135,"color":"#fff"},
  {"offset":0.135,"color":"#111"},{"offset":0.1458,"color":"#111"},{"offset":0.1458,"color":"#fff"},{"offset":0.162,"color":"#fff"},
  {"offset":0.162,"color":"#111"},{"offset":0.1728,"color":"#111"},{"offset":0.1728,"color":"#fff"},{"offset":0.189,"color":"#fff"},
  {"offset":0.189,"color":"#111"},{"offset":0.1998,"color":"#111"},{"offset":0.1998,"color":"#fff"},{"offset":0.216,"color":"#fff"},
  {"offset":0.216,"color":"#111"},{"offset":0.2268,"color":"#111"},{"offset":0.2268,"color":"#fff"},{"offset":0.243,"color":"#fff"},
  {"offset":0.243,"color":"#111"},{"offset":0.2538,"color":"#111"},{"offset":0.2538,"color":"#fff"},{"offset":0.27,"color":"#fff"},
  {"offset":0.27,"color":"#111"},{"offset":0.2808,"color":"#111"},{"offset":0.2808,"color":"#fff"},{"offset":0.297,"color":"#fff"},
  {"offset":0.297,"color":"#111"},{"offset":0.3078,"color":"#111"},{"offset":0.3078,"color":"#fff"},{"offset":0.324,"color":"#fff"},
  {"offset":0.324,"color":"#111"},{"offset":0.3348,"color":"#111"},{"offset":0.3348,"color":"#fff"},{"offset":0.351,"color":"#fff"},
  {"offset":0.351,"color":"#111"},{"offset":0.3618,"color":"#111"},{"offset":0.3618,"color":"#fff"},{"offset":0.378,"color":"#fff"},
  {"offset":0.378,"color":"#111"},{"offset":0.3888,"color":"#111"},{"offset":0.3888,"color":"#fff"},{"offset":0.405,"color":"#fff"},
  {"offset":0.405,"color":"#111"},{"offset":0.4158,"color":"#111"},{"offset":0.4158,"color":"#fff"},{"offset":0.432,"color":"#fff"},
  {"offset":0.432,"color":"#111"},{"offset":0.4428,"color":"#111"},{"offset":0.4428,"color":"#fff"},{"offset":0.459,"color":"#fff"},
  {"offset":0.459,"color":"#111"},{"offset":0.4698,"color":"#111"},{"offset":0.4698,"color":"#fff"},{"offset":0.486,"color":"#fff"},
  {"offset":0.486,"color":"#111"},{"offset":0.4968,"color":"#111"},{"offset":0.4968,"color":"#fff"},{"offset":0.513,"color":"#fff"},
  {"offset":0.513,"color":"#111"},{"offset":0.5238,"color":"#111"},{"offset":0.5238,"color":"#fff"},{"offset":0.54,"color":"#fff"},
  {"offset":0.54,"color":"#111"},{"offset":0.5508,"color":"#111"},{"offset":0.5508,"color":"#fff"},{"offset":0.567,"color":"#fff"},
  {"offset":0.567,"color":"#111"},{"offset":0.5778,"color":"#111"},{"offset":0.5778,"color":"#fff"},{"offset":0.594,"color":"#fff"},
  {"offset":0.594,"color":"#111"},{"offset":0.6048,"color":"#111"},{"offset":0.6048,"color":"#fff"},{"offset":0.621,"color":"#fff"},
  {"offset":0.621,"color":"#111"},{"offset":0.6318,"color":"#111"},{"offset":0.6318,"color":"#fff"},{"offset":0.648,"color":"#fff"},
  {"offset":0.648,"color":"#111"},{"offset":0.6588,"color":"#111"},{"offset":0.6588,"color":"#fff"},{"offset":0.675,"color":"#fff"},
  {"offset":0.675,"color":"#111"},{"offset":0.6858,"color":"#111"},{"offset":0.6858,"color":"#fff"},{"offset":0.702,"color":"#fff"},
  {"offset":0.702,"color":"#111"},{"offset":0.7128,"color":"#111"},{"offset":0.7128,"color":"#fff"},{"offset":0.729,"color":"#fff"},
  {"offset":0.729,"color":"#111"},{"offset":0.7398,"color":"#111"},{"offset":0.7398,"color":"#fff"},{"offset":0.756,"color":"#fff"},
  {"offset":0.756,"color":"#111"},{"offset":0.7668,"color":"#111"},{"offset":0.7668,"color":"#fff"},{"offset":0.783,"color":"#fff"},
  {"offset":0.783,"color":"#111"},{"offset":0.7938,"color":"#111"},{"offset":0.7938,"color":"#fff"},{"offset":0.81,"color":"#fff"},
  {"offset":0.81,"color":"#111"},{"offset":0.8208,"color":"#111"},{"offset":0.8208,"color":"#fff"},{"offset":0.837,"color":"#fff"},
  {"offset":0.837,"color":"#111"},{"offset":0.8478,"color":"#111"},{"offset":0.8478,"color":"#fff"},{"offset":0.864,"color":"#fff"},
  {"offset":0.864,"color":"#111"},{"offset":0.8748,"color":"#111"},{"offset":0.8748,"color":"#fff"},{"offset":0.891,"color":"#fff"},
  {"offset":0.891,"color":"#111"},{"offset":0.9018,"color":"#111"},{"offset":0.9018,"color":"#fff"},{"offset":0.918,"color":"#fff"},
  {"offset":0.918,"color":"#111"},{"offset":0.9288,"color":"#111"},{"offset":0.9288,"color":"#fff"},{"offset":0.945,"color":"#fff"},
  {"offset":0.945,"color":"#111"},{"offset":0.9558,"color":"#111"},{"offset":0.9558,"color":"#fff"},{"offset":0.972,"color":"#fff"},
  {"offset":0.972,"color":"#111"},{"offset":0.9828,"color":"#111"},{"offset":0.9828,"color":"#fff"},{"offset":1,"color":"#fff"}]}},
  "encoding":{"x":{"field":"time","type":"nominal","scale":{"type":"band","domain":["Baseline","Follow-up"],"range":[520,786.7],"paddingInner":0.521,"paddingOuter":0.268,"align":0.507}},"xOffset":{"field":"cond","type":"nominal","scale":{"type":"band","domain":["Basal","Insulin infusion"],"paddingInner":0,"paddingOuter":0}},"y":{"field":"value","type":"quantitative","scale":{"domain":[1.2,1.4],"range":[1207.3,895],"nice":false,"zero":false}},"y2":{"datum":1.2}}},
 {"mark":{"type":"rule","color":"black","strokeWidth":1.5},"encoding":{"x":{"field":"time","type":"nominal","scale":{"type":"band","domain":["Baseline","Follow-up"],"range":[520,786.7],"paddingInner":0.521,"paddingOuter":0.268,"align":0.507}},"xOffset":{"field":"cond","type":"nominal","scale":{"type":"band","domain":["Basal","Insulin infusion"],"paddingInner":0,"paddingOuter":0}},"y":{"field":"value","type":"quantitative","scale":{"domain":[1.2,1.4],"range":[1207.3,895],"nice":false,"zero":false}},"y2":{"field":"hi"}}},
 {"mark":{"type":"tick","color":"black","thickness":1.5,"size":11,"opacity":1},"encoding":{"x":{"field":"time","type":"nominal","scale":{"type":"band","domain":["Baseline","Follow-up"],"range":[520,786.7],"paddingInner":0.521,"paddingOuter":0.268,"align":0.507}},"xOffset":{"field":"cond","type":"nominal","scale":{"type":"band","domain":["Basal","Insulin infusion"],"paddingInner":0,"paddingOuter":0}},"y":{"field":"hi","type":"quantitative","scale":{"domain":[1.2,1.4],"range":[1207.3,895],"nice":false,"zero":false}}}},
 {"data":{"values":[{"time":"Baseline","p":"P=0.49"}]},"layer":[
  {"mark":{"type":"tick","color":"black","thickness":2,"size":52.7,"opacity":1},"encoding":{"x":{"field":"time","type":"nominal","scale":{"type":"band","domain":["Baseline","Follow-up"],"range":[520,786.7],"paddingInner":0.521,"paddingOuter":0.268,"align":0.507}},"y":{"datum":1.2606,"type":"quantitative","scale":{"domain":[1.2,1.4],"range":[1207.3,895],"nice":false,"zero":false}}}},
  {"mark":{"type":"rule","color":"black","strokeWidth":2,"xOffset":-26.35},"encoding":{"x":{"field":"time","type":"nominal","scale":{"type":"band","domain":["Baseline","Follow-up"],"range":[520,786.7],"paddingInner":0.521,"paddingOuter":0.268,"align":0.507}},"y":{"datum":1.2606,"type":"quantitative","scale":{"domain":[1.2,1.4],"range":[1207.3,895],"nice":false,"zero":false}},"y2":{"datum":1.2575}}},
  {"mark":{"type":"rule","color":"black","strokeWidth":2,"xOffset":26.35},"encoding":{"x":{"field":"time","type":"nominal","scale":{"type":"band","domain":["Baseline","Follow-up"],"range":[520,786.7],"paddingInner":0.521,"paddingOuter":0.268,"align":0.507}},"y":{"datum":1.2606,"type":"quantitative","scale":{"domain":[1.2,1.4],"range":[1207.3,895],"nice":false,"zero":false}},"y2":{"datum":1.2575}}},
  {"mark":{"type":"text","font":"DejaVu Sans","fontWeight":"bold","fontSize":14,"align":"center","baseline":"alphabetic","color":"black"},"encoding":{"x":{"field":"time","type":"nominal","scale":{"type":"band","domain":["Baseline","Follow-up"],"range":[520,786.7],"paddingInner":0.521,"paddingOuter":0.268,"align":0.507}},"y":{"datum":1.2665,"type":"quantitative","scale":{"domain":[1.2,1.4],"range":[1207.3,895],"nice":false,"zero":false}},"text":{"field":"p"}}}
 ]},
 {"data":{"values":[{"time":"Follow-up","p":"P=0.04","star":"*"}]},"layer":[
  {"mark":{"type":"tick","color":"black","thickness":2,"size":53.4,"opacity":1},"encoding":{"x":{"field":"time","type":"nominal","scale":{"type":"band","domain":["Baseline","Follow-up"],"range":[520,786.7],"paddingInner":0.521,"paddingOuter":0.268,"align":0.507}},"y":{"datum":1.3595,"type":"quantitative","scale":{"domain":[1.2,1.4],"range":[1207.3,895],"nice":false,"zero":false}}}},
  {"mark":{"type":"rule","color":"black","strokeWidth":2,"xOffset":-26.7},"encoding":{"x":{"field":"time","type":"nominal","scale":{"type":"band","domain":["Baseline","Follow-up"],"range":[520,786.7],"paddingInner":0.521,"paddingOuter":0.268,"align":0.507}},"y":{"datum":1.3595,"type":"quantitative","scale":{"domain":[1.2,1.4],"range":[1207.3,895],"nice":false,"zero":false}},"y2":{"datum":1.3565}}},
  {"mark":{"type":"rule","color":"black","strokeWidth":2,"xOffset":26.7},"encoding":{"x":{"field":"time","type":"nominal","scale":{"type":"band","domain":["Baseline","Follow-up"],"range":[520,786.7],"paddingInner":0.521,"paddingOuter":0.268,"align":0.507}},"y":{"datum":1.3595,"type":"quantitative","scale":{"domain":[1.2,1.4],"range":[1207.3,895],"nice":false,"zero":false}},"y2":{"datum":1.3565}}},
  {"mark":{"type":"text","font":"DejaVu Sans","fontWeight":"bold","fontSize":14,"align":"center","baseline":"alphabetic","color":"black"},"encoding":{"x":{"field":"time","type":"nominal","scale":{"type":"band","domain":["Baseline","Follow-up"],"range":[520,786.7],"paddingInner":0.521,"paddingOuter":0.268,"align":0.507}},"y":{"datum":1.3662,"type":"quantitative","scale":{"domain":[1.2,1.4],"range":[1207.3,895],"nice":false,"zero":false}},"text":{"field":"p"}}},
  {"mark":{"type":"text","font":"DejaVu Sans","fontWeight":"bold","fontSize":22,"align":"center","baseline":"alphabetic","color":"black","dx":15.85},"encoding":{"x":{"field":"time","type":"nominal","scale":{"type":"band","domain":["Baseline","Follow-up"],"range":[520,786.7],"paddingInner":0.521,"paddingOuter":0.268,"align":0.507}},"y":{"datum":1.3329,"type":"quantitative","scale":{"domain":[1.2,1.4],"range":[1207.3,895],"nice":false,"zero":false}},"text":{"field":"star"}}}
 ]},
 {"data":{"values":[{"label":"Basal"}]},"layer":[
  {"mark":{"type":"square","size":86,"fill":"white","stroke":"black","strokeWidth":1.3,"opacity":1,"xOffset":-16.35},"encoding":{"x":{"datum":"Baseline","type":"nominal","scale":{"type":"band","domain":["Baseline","Follow-up"],"range":[520,786.7],"paddingInner":0.521,"paddingOuter":0.268,"align":0.507}},"y":{"datum":1.3904,"type":"quantitative","scale":{"domain":[1.2,1.4],"range":[1207.3,895],"nice":false,"zero":false}}}},
  {"mark":{"type":"text","font":"DejaVu Sans","fontWeight":"bold","fontSize":13,"align":"left","baseline":"alphabetic","color":"black","dx":-7.65},"encoding":{"x":{"datum":"Baseline","type":"nominal","scale":{"type":"band","domain":["Baseline","Follow-up"],"range":[520,786.7],"paddingInner":0.521,"paddingOuter":0.268,"align":0.507}},"y":{"datum":1.3874,"type":"quantitative","scale":{"domain":[1.2,1.4],"range":[1207.3,895],"nice":false,"zero":false}},"text":{"field":"label"}}}
 ]},
 {"data":{"values":[{"label":"Insulin infusion"}]},"layer":[
  {"mark":{"type":"square","size":86,"stroke":"black","strokeWidth":1.3,"opacity":1,"xOffset":56.15,"fill":{"gradient":"linear","x1":0,"y1":0,"x2":1,"y2":1,"stops":[{"offset":0,"color":"#111"},{"offset":0.133,"color":"#111"},{"offset":0.133,"color":"#fff"},{"offset":0.333,"color":"#fff"},{"offset":0.333,"color":"#111"},{"offset":0.466,"color":"#111"},{"offset":0.466,"color":"#fff"},{"offset":0.667,"color":"#fff"},{"offset":0.667,"color":"#111"},{"offset":0.8,"color":"#111"},{"offset":0.8,"color":"#fff"},{"offset":1,"color":"#fff"}]}},"encoding":{"x":{"datum":"Baseline","type":"nominal","scale":{"type":"band","domain":["Baseline","Follow-up"],"range":[520,786.7],"paddingInner":0.521,"paddingOuter":0.268,"align":0.507}},"y":{"datum":1.3904,"type":"quantitative","scale":{"domain":[1.2,1.4],"range":[1207.3,895],"nice":false,"zero":false}}}},
  {"mark":{"type":"text","font":"DejaVu Sans","fontWeight":"bold","fontSize":13,"align":"left","baseline":"alphabetic","color":"black","dx":64.05},"encoding":{"x":{"datum":"Baseline","type":"nominal","scale":{"type":"band","domain":["Baseline","Follow-up"],"range":[520,786.7],"paddingInner":0.521,"paddingOuter":0.268,"align":0.507}},"y":{"datum":1.3874,"type":"quantitative","scale":{"domain":[1.2,1.4],"range":[1207.3,895],"nice":false,"zero":false}},"text":{"field":"label"}}}
 ]}
]}
],
"resolve":{"scale":{"x":"independent","y":"independent","xOffset":"independent"},"axis":{"x":"independent","y":"independent"}}
}
